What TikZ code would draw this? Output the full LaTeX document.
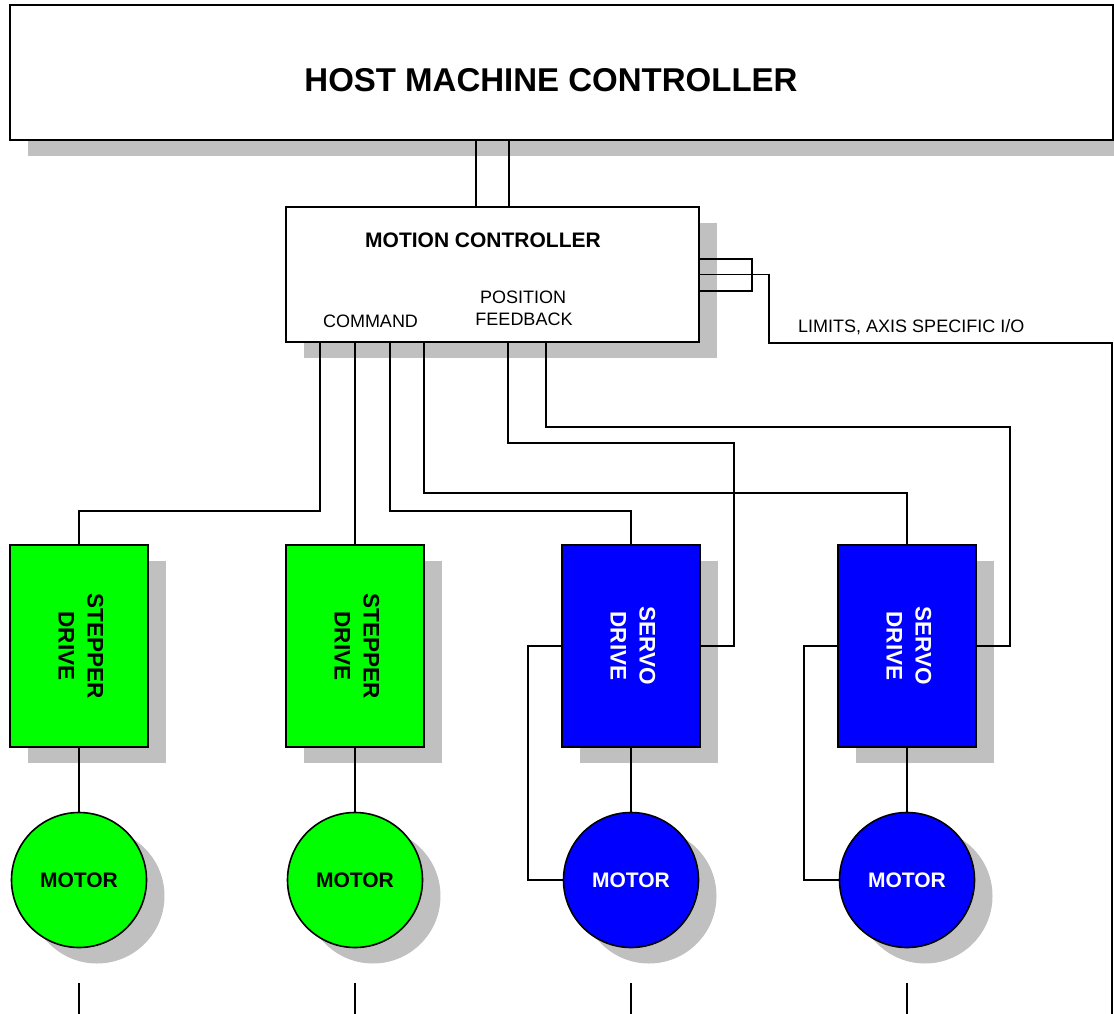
\documentclass[tikz,border=0pt]{standalone}
\usepackage{fontspec}
\setmainfont{Liberation Sans}
\usetikzlibrary{shadows}
\definecolor{shadowgray}{HTML}{C0C0C0}
\definecolor{stepgreen}{HTML}{00FF00}
\definecolor{servoblue}{HTML}{0000FF}
\begin{document}
\begin{tikzpicture}[x=1pt,y=-1pt,
  shadowed/.style={drop shadow={shadow xshift=18pt,shadow yshift=-16pt,fill=shadowgray,opacity=1}},
  box/.style={draw,line width=2pt,rectangle,inner sep=0pt,outer sep=0pt,fill=white,shadowed},
  drivebox/.style={box,minimum width=138pt,minimum height=202pt,font=\fontsize{22.5}{29}\selectfont\bfseries},
  stepperbox/.style={drivebox,fill=stepgreen,text=black},
  servobox/.style={drivebox,fill=servoblue,text=white},
  motor/.style={circle,draw,line width=1.6pt,minimum size=135pt,inner sep=0pt,outer sep=0pt,shadowed,font=\fontsize{21}{25}\selectfont\bfseries},
  steppermotor/.style={motor,fill=stepgreen,text=black},
  servomotor/.style={motor,fill=servoblue,text=white},
  wire/.style={line width=1.4pt},
  smalltext/.style={font=\fontsize{18}{21}\selectfont,inner sep=0pt},
  boldtext/.style={font=\fontsize{21}{25}\selectfont\bfseries,inner sep=0pt}
]
\useasboundingbox (0,0) rectangle (1114,1014);

% boxes
\node[box,minimum width=1103pt,minimum height=135pt,line width=2.3pt] (host) at (561.5,72.5) {};
\node[anchor=base,font=\fontsize{33}{40}\selectfont\bfseries,inner sep=0pt] (title) at (551,92) {HOST MACHINE CONTROLLER};

\node[box,minimum width=413pt,minimum height=135pt] (mc) at (492.5,274.5) {};
\node[boldtext,anchor=base] (mctitle) at (483,247) {MOTION CONTROLLER};
\node[smalltext,anchor=base] (cmd) at (370.5,327) {COMMAND};
\node[smalltext,anchor=base] (pos1) at (523,303) {POSITION};
\node[smalltext,anchor=base] (pos2) at (524,325) {FEEDBACK};
\node[smalltext,anchor=base west] (io) at (798,332) {LIMITS, AXIS SPECIFIC I/O};

\node[stepperbox] (sd1) at (79,646) {\rotatebox{-90}{\begin{tabular}{@{}c@{}}STEPPER\\DRIVE\end{tabular}}};
\node[stepperbox] (sd2) at (355,646) {\rotatebox{-90}{\begin{tabular}{@{}c@{}}STEPPER\\DRIVE\end{tabular}}};
\node[servobox] (sv1) at (631,646) {\rotatebox{-90}{\begin{tabular}{@{}c@{}}SERVO\\DRIVE\end{tabular}}};
\node[servobox] (sv2) at (907,646) {\rotatebox{-90}{\begin{tabular}{@{}c@{}}SERVO\\DRIVE\end{tabular}}};

\node[steppermotor] (m1) at (79,880) {MOTOR};
\node[steppermotor] (m2) at (355,880) {MOTOR};
\node[servomotor] (m3) at (631,880) {MOTOR};
\node[servomotor] (m4) at (907,880) {MOTOR};

% host to motion controller
\draw[wire] ([xshift=-16.5pt]mc.north) -- ([xshift=-16.5pt]mc.north |- host.south);
\draw[wire] ([xshift=16.5pt]mc.north) -- ([xshift=16.5pt]mc.north |- host.south);

% command lines
\draw[wire] ([xshift=34pt]mc.south west) -- ++(0,169) -| (sd1.north);
\draw[wire] (sd2.north) -- (sd2.north |- mc.south);
\draw[wire] ([xshift=104pt]mc.south west) -- ++(0,169) -| (sv1.north);
\draw[wire] ([xshift=138pt]mc.south west) -- ++(0,151) -| (sv2.north);

% position feedback
\draw[wire] ([xshift=222pt]mc.south west) -- ++(0,101) -| ([xshift=34pt]sv1.east) -- (sv1.east);
\draw[wire] ([xshift=260pt]mc.south west) -- ++(0,85) -| ([xshift=34pt]sv2.east) -- (sv2.east);

% servo drive to motor feedback
\draw[wire] (sv1.west) -- ++(-34,0) |- (m3.west);
\draw[wire] (sv2.west) -- ++(-34,0) |- (m4.west);

% drive to motor
\draw[wire] (sd1.south) -- (m1.north);
\draw[wire] (sd2.south) -- (m2.north);
\draw[wire] (sv1.south) -- (m3.north);
\draw[wire] (sv2.south) -- (m4.north);

% motor outputs
\coordinate (o1a) at (79,983);  \coordinate (o1b) at (79,1014);
\coordinate (o2a) at (355,983); \coordinate (o2b) at (355,1014);
\coordinate (o3a) at (631,983); \coordinate (o3b) at (631,1014);
\coordinate (o4a) at (907,983); \coordinate (o4b) at (907,1014);
\draw[wire] (o1a) -- (o1b);
\draw[wire] (o2a) -- (o2b);
\draw[wire] (o3a) -- (o3b);
\draw[wire] (o4a) -- (o4b);

% limits, axis specific I/O
\draw[wire] ([yshift=15.5pt]mc.east) -- ++(53,0) -- ++(0,32) -- ++(-53,0);
\coordinate (ioend) at (1112,1014);
\draw[wire] (mc.east) -- ++(70,0) -- ++(0,68.5) -| (ioend);
\end{tikzpicture}
\end{document}
